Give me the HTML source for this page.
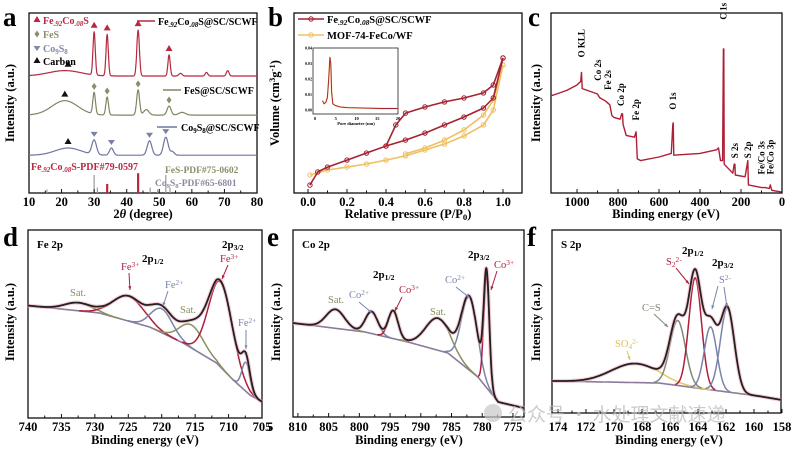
<!DOCTYPE html>
<html><head><meta charset="utf-8"><style>
html,body{margin:0;padding:0;background:#fff;}
svg{display:block;font-family:"Liberation Serif","Noto Serif CJK SC",serif;font-weight:bold;}
</style></head><body>
<svg id="fig" width="791" height="454" viewBox="0 0 791 454" xmlns="http://www.w3.org/2000/svg"></svg>
<script>
// ---------- Panel a (XRD) ----------
const xrdBaseRed = 65, xrdBaseGreen = 43.3, xrdBaseBlue = 21;
const xrdRedPeaks = [[21,3,5],[30,24,0.35],[34,23,0.35],[43.5,25.5,0.4],[53,11.7,0.35],[56.5,1.5,0.5],[64.5,2,0.4],[71,3,0.4]];
const xrdGreenPeaks = [[21,8,4],[30,12,0.4],[34,10,0.4],[43.5,14,0.45],[46,3,0.8],[53,5,0.6],[57,1.5,1]];
const xrdBluePeaks = [[22,4,4],[30,8,0.7],[35.3,4,0.6],[47,8,0.7],[52,10,0.7],[54,2,0.6]];
const refRed = [[34,5],[43.5,11]];
const refGray = [[15.5,2],[30,10],[31,3],[47.2,3],[49.5,2],[52,10],[53.3,3]];
const xrdTicks = [10,20,30,40,50,60,70,80];
// ---------- Panel b (BET) ----------
const betRedAdsX = [0.01,0.05,0.1,0.2,0.3,0.4,0.5,0.6,0.7,0.8,0.9,0.95,1.0];
const betRedAdsY = [4.4,11.7,14.4,18.3,22.2,26.1,29.4,33.3,37.8,42.2,47.2,52.8,75];
const betRedDesX = [1.0,0.95,0.9,0.8,0.7,0.6,0.5,0.45,0.4];
const betRedDesY = [75,60,55.6,52.8,50.6,47.8,44.4,37.8,26.1];
const betYelAdsX = [0.01,0.1,0.2,0.3,0.4,0.5,0.6,0.7,0.8,0.9,0.95,1.0];
const betYelAdsY = [10,12.8,14.4,16.1,18.3,20.6,23.9,27.2,31.7,37.8,46.1,71.1];
const betYelDesX = [1.0,0.95,0.9,0.8,0.7,0.6,0.5];
const betYelDesY = [71.1,51.7,43.3,35,29.4,25,21.7];
const insetX = [1.8,2.2,2.6,3.0,3.3,3.6,3.8,4.0,4.3,4.8,6,8,12,16,20];
const insetY = [0.006,0.004,0.005,0.008,0.02,0.034,0.03,0.012,0.004,0.003,0.002,0.0015,0.0012,0.001,0.001];
const betTicks = [0,0.2,0.4,0.6,0.8,1.0];
// ---------- Panel c (XPS survey) ----------
const surveyBE = [1127,1100,1050,1000,982,978,975,950,900,890,860,840,830,820,790,782,778,775,760,720,712,706,690,600,540,533,531,528,400,320,310,300,290,286,284,282,240,233,230,228,180,167,164,100,80,62,57,50,0];
const surveyI = [54,55,57,60,62,67,58,57,55,53,51,49,43,42,41,44,44,38,32,31,34,19,18,20,22,38,39,21,22,24,25,18,18,80,80,16,11,16,16,10,9,18,4.5,3,3,2.5,4.5,1.5,0.5];
const surveyTicks = [1000,800,600,400,200,0];
const surveyLabels = [["O KLL",977,72],["Co 2s",898,59],["Fe 2s",848,54],["Co 2p",785,45],["Fe 2p",712,37],["O 1s",532,43],["C 1s",285,93],["S 2s",230,16],["S 2p",166,16],["Fe/Co 3s",100,7],["Fe/Co 3p",55,7]];
// ---------- Panel d (Fe 2p) ----------
const dBg = [[740.8,113],[729.3,105],[721.8,91],[716.8,75],[711.8,55],[709.3,38],[706.8,23],[705,16]];
const dCenters = [732.5,725,720,715.5,711.2,707.4];
const dAmps = [8,25,24,23,85,29];
const dSig = [2,2.3,1.6,1.8,1.8,0.6];
const dKinds = ['sat','hi','lo','sat','hi','lo'];
const dTicks = [740,735,730,725,720,715,710,705];
// ---------- Panel e (Co 2p) ----------
const eBg = [[810.8,94],[799.1,85],[792.1,75],[785.6,64],[780.7,40],[777.4,15],[773.2,9]];
const eCenters = [803.9,798,794.5,787.2,782.1,779.3];
const eAmps = [19,22,28,32,73,112];
const eSig = [1.5,1.0,0.8,2.0,1.3,0.45];
const eKinds = ['sat','lo','hi','sat','lo','hi'];
const eTicks = [810,805,800,795,790,785,780,775];
// ---------- Panel f (S 2p) ----------
const fBg = [[174.5,32],[166.8,30],[163,23],[159.7,17],[158,13]];
const fCenters = [168.5,165.45,164.2,163.1,161.9];
const fAmps = [19,65,110,63,84];
const fSig = [1.7,0.55,0.45,0.45,0.5];
const fKinds = ['so4','cs','hi','lo','lo'];
const fTicks = [174,172,170,168,166,164,162,160,158];

const NS = "http://www.w3.org/2000/svg";
const svg = document.getElementById('fig');
function el(tag, attrs, parent){const e=document.createElementNS(NS,tag);for(const k in attrs)e.setAttribute(k,attrs[k]);(parent||svg).appendChild(e);return e;}
function lin(d0,d1,r0,r1){return v=>r0+(v-d0)/(d1-d0)*(r1-r0);}
function pathFrom(pts){return pts.map((p,i)=>(i?'L':'M')+p[0].toFixed(1)+','+p[1].toFixed(1)).join('');}
function interp(tbl,x){
  const t = tbl[0][0] < tbl[tbl.length-1][0] ? tbl : tbl.slice().reverse();
  if(x<=t[0][0])return t[0][1]; if(x>=t[t.length-1][0])return t[t.length-1][1];
  for(let i=1;i<t.length;i++){if(x<=t[i][0]){const a=t[i-1],b=t[i];return a[1]+(x-a[0])/(b[0]-a[0])*(b[1]-a[1]);}}
}
function gauss(x,c,a,s){return a*Math.exp(-(x-c)*(x-c)/(2*s*s));}
function text(str,x,y,opt,name){
  const t=el('text',Object.assign({x:x,y:y,'font-size':12},opt||{}));
  t.textContent=str;
  
  
  return t;
}
function rich(parts,x,y,opt,name){
  const t=el('text',Object.assign({x:x,y:y,'font-size':12},opt||{}));
  
  
  parts.forEach(p=>{const s=el('tspan',{},t);s.textContent=p[0];
    if(p[1]==='sub'){s.setAttribute('baseline-shift','-25%');s.setAttribute('font-size','0.7em');}
    if(p[1]==='sup'){s.setAttribute('baseline-shift','40%');s.setAttribute('font-size','0.7em');}
    if(p[2])s.setAttribute('font-style','italic');});
  return t;
}
function frame(x0,y0,x1,y1,name){
  const r=el('rect',{x:x0,y:y0,width:x1-x0,height:y1-y0,fill:'none',stroke:'#111','stroke-width':1.3});
  
  
}
function xTicks(ticks,sx,yb,ty,name,fmt,minor){
  ticks.forEach(v=>{
    const l=el('line',{x1:sx(v),x2:sx(v),y1:yb,y2:yb-4,stroke:'#111','stroke-width':1});
    
    
    text(fmt?fmt(v):String(v),sx(v),ty,{'text-anchor':'middle','font-size':12.5},name);
  });
  if(minor){for(let i=0;i<ticks.length-1;i++){const m=(ticks[i]+ticks[i+1])/2;
    const l=el('line',{x1:sx(m),x2:sx(m),y1:yb,y2:yb-2.5,stroke:'#111','stroke-width':1});
    
    }}
}
function yTitle(str,x,y,name){text(str,x,y,{'text-anchor':'middle','font-size':12.5,transform:`rotate(-90 ${x} ${y})`},name);}
function letter(ch,x,y){text(ch,x,y,{'font-size':27,'font-weight':'bold'},'panel-letter-'+ch);}
function line(pts,stroke,w,name,extra){
  const p=el('path',Object.assign({d:pathFrom(pts),fill:'none',stroke:stroke,'stroke-width':w,'stroke-linejoin':'round'},extra||{}));
  
  
  return p;
}
function marker(kind,x,y,col){
  let d;
  if(kind==='up') d=`M${x},${y-4}L${x+3.5},${y+2}L${x-3.5},${y+2}Z`;
  else if(kind==='down') d=`M${x-3.5},${y-2}L${x+3.5},${y-2}L${x},${y+3}Z`;
  else d=`M${x},${y-3.5}L${x+2.5},${y}L${x},${y+3.5}L${x-2.5},${y}Z`;
  const p=el('path',{d:d,fill:col});
  
  
}

// ================= Panel a =================
(function(){
  const X0=29,X1=257,Y0=13,Y1=193;
  const sx=lin(10,80,X0,X1), sy=lin(0,100,Y1,Y1-180);
  letter('a',3,26);
  frame(X0,Y0,X1,Y1,'xrd-plot-frame');
  function curve(base,peaks){const pts=[];for(let x=10;x<=80;x+=0.1){let v=base;peaks.forEach(p=>v+=gauss(x,p[0],p[1],p[2]));pts.push([sx(x),sy(v)]);}return pts;}
  line(curve(xrdBaseRed,xrdRedPeaks),'#b8283f',1.2,'xrd-curve-fecos');
  line(curve(xrdBaseGreen,xrdGreenPeaks),'#7f8660',1.2,'xrd-curve-fes');
  line(curve(xrdBaseBlue,xrdBluePeaks),'#6f76a0',1.2,'xrd-curve-co9s8');
  refGray.forEach(r=>{const l=el('line',{x1:sx(r[0]),x2:sx(r[0]),y1:Y1,y2:sy(r[1]),stroke:'#9a9a9a','stroke-width':1.2});
    
    });
  refRed.forEach(r=>{const l=el('line',{x1:sx(r[0]),x2:sx(r[0]),y1:Y1,y2:sy(r[1]),stroke:'#b8283f','stroke-width':2.2});
    
    });
  function topOf(base,peaks,x){let v=base;peaks.forEach(p=>v+=gauss(x,p[0],p[1],p[2]));return sy(v);}
  xrdRedPeaks.filter(p=>p[1]>10).forEach(p=>marker('up',sx(p[0]),topOf(xrdBaseRed,xrdRedPeaks,p[0])-6,'#b8283f'));
  marker('up',sx(22),topOf(xrdBaseRed,xrdRedPeaks,22)-6,'#111');
  xrdGreenPeaks.filter(p=>p[1]>4&&p[2]<1).forEach(p=>marker('dia',sx(p[0]),topOf(xrdBaseGreen,xrdGreenPeaks,p[0])-6,'#8a8f6c'));
  marker('up',sx(21),topOf(xrdBaseGreen,xrdGreenPeaks,21)-6,'#111');
  xrdBluePeaks.filter(p=>p[1]>3&&p[2]<1).forEach(p=>marker('down',sx(p[0]),topOf(xrdBaseBlue,xrdBluePeaks,p[0])-6,'#7a80a8'));
  marker('up',sx(22),topOf(xrdBaseBlue,xrdBluePeaks,22)-6,'#111');
  xTicks(xrdTicks,sx,Y1,206,'xrd-x-tick-label',null,true);
  rich([['2',null],['θ',null,true],[' (degree)',null]],143,218,{'text-anchor':'middle','font-size':12.5},'xrd-x-axis-title');
  yTitle('Intensity (a.u.)',14,103,'xrd-y-axis-title');
  marker('up',37,20,'#b8283f'); rich([['Fe',null],['.92','sub',true],['Co',null],['.08','sub',true],['S',null]],43,24,{fill:'#b8283f','font-size':10},'legend-fecos');
  marker('dia',37,34,'#8a8f6c'); text('FeS',43,38,{fill:'#8a8f6c','font-size':10},'legend-fes');
  marker('down',37,48,'#8088a8'); rich([['Co',null],['9','sub'],['S',null],['8','sub']],43,52,{fill:'#8088a8','font-size':10},'legend-co9s8');
  marker('up',37,61,'#111'); text('Carbon',43,65,{'font-size':10},'legend-carbon');
  el('line',{x1:137,x2:155,y1:21,y2:21,stroke:'#b8283f','stroke-width':1.5});
  rich([['Fe',null],['.92','sub',true],['Co',null],['.08','sub',true],['S@SC/SCWF',null]],158,25,{'font-size':10},'series-label-fecos');
  el('line',{x1:163,x2:181,y1:90,y2:90,stroke:'#7f8660','stroke-width':1.5});
  text('FeS@SC/SCWF',184,94,{'font-size':10},'series-label-fes');
  el('line',{x1:157,x2:177,y1:127,y2:127,stroke:'#6f76a0','stroke-width':1.5});
  rich([['Co',null],['9','sub'],['S',null],['8','sub'],['@SC/SCWF',null]],181,131,{'font-size':10},'series-label-co9s8');
  rich([['Fe',null],['.92','sub',true],['Co',null],['.08','sub',true],['S-PDF#79-0597',null]],31,170,{fill:'#b8283f','font-size':10},'ref-label-fecos');
  text('FeS-PDF#75-0602',165,173,{fill:'#8a8f6c','font-size':9.5},'ref-label-fes');
  rich([['Co',null],['9','sub'],['S',null],['8','sub'],['-PDF#65-6801',null]],155,186,{fill:'#8a8aa0','font-size':9.5},'ref-label-co9s8');
})();

// ================= Panel b =================
(function(){
  const X0=294,X1=522,Y0=13,Y1=193;
  const sx=lin(0,1,308,503), sy=lin(0,100,Y1,Y1-180);
  letter('b',268,26);
  frame(X0,Y0,X1,Y1,'bet-plot-frame');
  function series(xs,ys,col,name){
    const pts=xs.map((x,i)=>[sx(x),sy(ys[i])]);
    line(pts,col,1.6,name);
    pts.forEach(p=>{const c=el('circle',{cx:p[0],cy:p[1],r:2.2,fill:'none',stroke:col,'stroke-width':1});
      
      });
  }
  series(betYelAdsX,betYelAdsY,'#f0c060','mof-adsorption-line');
  series(betYelDesX,betYelDesY,'#f0c060','mof-desorption-line');
  series(betRedAdsX,betRedAdsY,'#a42232','fecos-adsorption-line');
  series(betRedDesX,betRedDesY,'#a42232','fecos-desorption-line');
  xTicks(betTicks,sx,Y1,206,'bet-x-tick-label',v=>v.toFixed(1),true);
  rich([['Relative pressure (P/P',null],['0','sub'],[')',null]],408,218,{'text-anchor':'middle','font-size':12.5},'bet-x-axis-title');
  rich([['Volume (cm',null],['3','sup'],['g',null],['-1','sup'],[')',null]],279,103,{'text-anchor':'middle','font-size':12.5,transform:'rotate(-90 279 103)'},'bet-y-axis-title');
  el('line',{x1:298,x2:324,y1:19,y2:19,stroke:'#a42232','stroke-width':1.6});
  el('circle',{cx:311,cy:19,r:2.2,fill:'none',stroke:'#a42232'});
  rich([['Fe',null],['.92','sub',true],['Co',null],['.08','sub',true],['S@SC/SCWF',null]],327,23,{'font-size':10.5},'legend-fecos-scwf');
  el('line',{x1:298,x2:324,y1:35,y2:35,stroke:'#f0c060','stroke-width':1.6});
  el('circle',{cx:311,cy:35,r:2.2,fill:'none',stroke:'#f0c060'});
  text('MOF-74-FeCo/WF',327,39,{'font-size':10.5},'legend-mof');
  const ix0=313,ix1=398,iy0=48,iy1=114;
  const isx=lin(0,20,ix0+2,ix1), isy=lin(0,0.04,iy1-4,iy0);
  el('rect',{x:ix0,y:iy0,width:ix1-ix0,height:iy1-iy0,fill:'#fff',stroke:'#222','stroke-width':0.8});
  const ip=insetX.map((x,i)=>[isx(x),isy(insetY[i])]);
  line(ip,'#f0c060',1.4,'inset-mof-line');
  line(ip,'#a42232',0.9,'inset-fecos-line');
  [0,5,10,15,20].forEach(v=>text(String(v),isx(v),iy1+6,{'font-size':4.5,'text-anchor':'middle'},'inset-x-tick'));
  [0,0.01,0.02,0.03,0.04].forEach(v=>text(v.toFixed(2),ix0-1,isy(v)+1.5,{'font-size':4,'text-anchor':'end'},'inset-y-tick'));
  text('Pore diameter (nm)',356,iy1+11,{'font-size':4.5,'text-anchor':'middle'},'inset-x-title');
})();

// ================= Panel c =================
(function(){
  const X0=551,X1=782,Y0=13,Y1=193;
  const sx=lin(1127,0,X0,X1), sy=lin(0,100,Y1,Y1-180);
  letter('c',528,26);
  frame(X0,Y0,X1,Y1,'survey-plot-frame');
  line(surveyBE.map((b,i)=>[sx(b),sy(surveyI[i])]),'#b01e35',1.4,'survey-spectrum');
  surveyLabels.forEach(l=>{const x=sx(l[1])+3,y=sy(l[2])-6;
    text(l[0],x,y,{'font-size':9,transform:`rotate(-90 ${x} ${y})`},'peak-label');});
  xTicks(surveyTicks,sx,Y1,206,'survey-x-tick-label',null,true);
  text('Binding energy (eV)',666,218,{'text-anchor':'middle','font-size':12.5},'survey-x-axis-title');
  yTitle('Intensity (a.u.)',540,103,'survey-y-axis-title');
})();

const kindColor = {sat:'#8a8f62',hi:'#b01e3c',lo:'#7a84a8',so4:'#e8c860',cs:'#7f8a78'};
function xps(opt,bg,centers,amps,sig,kinds){
  const sx=lin(opt.d0,opt.d1,opt.X0,opt.X1), sy=lin(0,opt.ymax,opt.Y1,opt.Y0);
  frame(opt.X0,opt.Y0,opt.X1,opt.Y1,opt.name+'-plot-frame');
  const lo=Math.min(opt.d0,opt.d1), hi=Math.max(opt.d0,opt.d1);
  const xs=[];for(let x=lo;x<=hi;x+=0.05)xs.push(x);
  line(xs.map(x=>[sx(x),sy(interp(bg,x))]),'#8c7c9c',1.6,opt.name+'-background');
  centers.forEach((c,i)=>{
    const pts=xs.filter(x=>Math.abs(x-c)<sig[i]*3.2).map(x=>[sx(x),sy(interp(bg,x)+gauss(x,c,amps[i],sig[i]))]);
    line(pts,kindColor[kinds[i]],1.5,opt.name+'-component-'+i);
  });
  const env=xs.map(x=>{let v=interp(bg,x);centers.forEach((c,i)=>v+=gauss(x,c,amps[i],sig[i]));return [sx(x),sy(v)];});
  line(env,'#f2a8b8',4,opt.name+'-envelope-halo',{opacity:0.55});
  line(env,'#222',1.8,opt.name+'-envelope');
  return {sx,sy};
}
function arrow(x1,y1,x2,y2,col){
  const l=el('line',{x1,y1,x2,y2,stroke:col,'stroke-width':1});
  
  
  const a=Math.atan2(y2-y1,x2-x1),s=4;
  el('path',{d:`M${x2},${y2}L${x2-s*Math.cos(a-0.4)},${y2-s*Math.sin(a-0.4)}L${x2-s*Math.cos(a+0.4)},${y2-s*Math.sin(a+0.4)}Z`,fill:col});
}

(function(){
  const o={X0:28,X1:262,Y0:230,Y1:418,d0:740,d1:705,ymax:188,name:'fe2p'};
  const s=xps(o,dBg,dCenters,dAmps,dSig,dKinds);
  letter('d',3,246);
  xTicks(dTicks,s.sx,o.Y1,431,'fe2p-x-tick-label',null,true);
  text('Binding energy (eV)',145,444,{'text-anchor':'middle','font-size':12.5},'fe2p-x-axis-title');
  yTitle('Intensity (a.u.)',14,322,'fe2p-y-axis-title');
  text('Fe 2p',37,248,{'font-size':11},'fe2p-title');
  rich([['2p',null],['1/2','sub']],142,262,{'font-size':11},'label-2p12');
  rich([['2p',null],['3/2','sub']],222,248,{'font-size':11},'label-2p32');
  rich([['Fe',null],['3+','sup']],121,270,{fill:'#b01e3c','font-size':10.5,'font-weight':'normal'},'label-fe3-a'); arrow(129,273,130,290,'#b01e3c');
  rich([['Fe',null],['2+','sup']],165,288,{fill:'#7a84a8','font-size':10.5,'font-weight':'normal'},'label-fe2-a'); arrow(168,291,163,306,'#7a84a8');
  text('Sat.',70,296,{fill:'#8a8f62','font-size':10.5,'font-weight':'normal'},'label-sat-a');
  text('Sat.',180,313,{fill:'#8a8f62','font-size':10.5,'font-weight':'normal'},'label-sat-b');
  rich([['Fe',null],['3+','sup']],220,262,{fill:'#b01e3c','font-size':10.5,'font-weight':'normal'},'label-fe3-b'); arrow(228,265,222,279,'#b01e3c');
  rich([['Fe',null],['2+','sup']],238,326,{fill:'#7a84a8','font-size':10.5,'font-weight':'normal'},'label-fe2-b'); arrow(246,330,246,349,'#7a84a8');
})();

(function(){
  const o={X0:293,X1:524,Y0:230,Y1:417,d0:810.8,d1:773.2,ymax:187,name:'co2p'};
  const s=xps(o,eBg,eCenters,eAmps,eSig,eKinds);
  letter('e',267,246);
  xTicks(eTicks,s.sx,o.Y1,431,'co2p-x-tick-label',null,true);
  text('5',267,431,{'font-size':12.5},'cut-tick');
  text('Binding energy (eV)',409,444,{'text-anchor':'middle','font-size':12.5},'co2p-x-axis-title');
  yTitle('Intensity (a.u.)',280,322,'co2p-y-axis-title');
  text('Co 2p',302,248,{'font-size':11},'co2p-title');
  rich([['2p',null],['1/2','sub']],373,278,{'font-size':11},'label-2p12');
  rich([['2p',null],['3/2','sub']],468,258,{'font-size':11},'label-2p32');
  rich([['Co',null],['3+','sup']],494,268,{fill:'#b01e3c','font-size':10.5,'font-weight':'normal'},'label-co3-b'); arrow(497,271,491,290,'#b01e3c');
  rich([['Co',null],['2+','sup']],445,283,{fill:'#7a84a8','font-size':10.5,'font-weight':'normal'},'label-co2-b'); arrow(456,287,470,298,'#7a84a8');
  rich([['Co',null],['3+','sup']],399,293,{fill:'#b01e3c','font-size':10.5,'font-weight':'normal'},'label-co3-a'); arrow(402,297,395,311,'#b01e3c');
  rich([['Co',null],['2+','sup']],349,298,{fill:'#7a84a8','font-size':10.5,'font-weight':'normal'},'label-co2-a'); arrow(359,302,372,313,'#7a84a8');
  text('Sat.',328,303,{fill:'#8a8f62','font-size':10.5,'font-weight':'normal'},'label-sat-a');
  text('Sat.',430,315,{fill:'#8a8f62','font-size':10.5,'font-weight':'normal'},'label-sat-b');
})();

(function(){
  const o={X0:552,X1:781,Y0:230,Y1:413,d0:174.43,d1:158.07,ymax:183,name:'s2p'};
  const s=xps(o,fBg,fCenters,fAmps,fSig,fKinds);
  letter('f',527,246);
  xTicks(fTicks,s.sx,o.Y1,431,'s2p-x-tick-label',null,true);
  text('Binding energy (eV)',669,444,{'text-anchor':'middle','font-size':12.5},'s2p-x-axis-title');
  yTitle('Intensity (a.u.)',540,322,'s2p-y-axis-title');
  text('S 2p',561,248,{'font-size':11},'s2p-title');
  rich([['2p',null],['1/2','sub']],682,254,{'font-size':11},'label-2p12');
  rich([['2p',null],['3/2','sub']],712,266,{'font-size':11},'label-2p32');
  rich([['S',null],['2','sub'],['2-','sup']],666,265,{fill:'#b01e3c','font-size':10.5,'font-weight':'normal'},'label-s22'); arrow(676,268,689,284,'#b01e3c');
  rich([['S',null],['2-','sup']],719,283,{fill:'#7a84a8','font-size':10.5,'font-weight':'normal'},'label-s2'); arrow(718,286,712,309,'#7a84a8'); arrow(724,287,727,307,'#7a84a8');
  text('C=S',642,311,{fill:'#7f8a78','font-size':10.5,'font-weight':'normal'},'label-cs'); arrow(654,314,668,327,'#7f8a78');
  rich([['SO',null],['4','sub'],['2-','sup']],615,347,{fill:'#e0c050','font-size':10.5,'font-weight':'normal'},'label-so4'); arrow(627,351,630,360,'#e0c050');
})();

(function(){
  const c=el('circle',{cx:493,cy:413,r:9,fill:'#c8c8c8',opacity:0.7});
  
  
  const t=el('text',{x:508,y:421,'font-size':19,fill:'#bbbbbb','font-weight':'normal',opacity:0.75,'font-family':'"Noto Sans CJK SC","WenQuanYi Zen Hei",sans-serif'});
  t.textContent='公众号 · 水处理文献速递';
  
  
})();
</script>
</body></html>
